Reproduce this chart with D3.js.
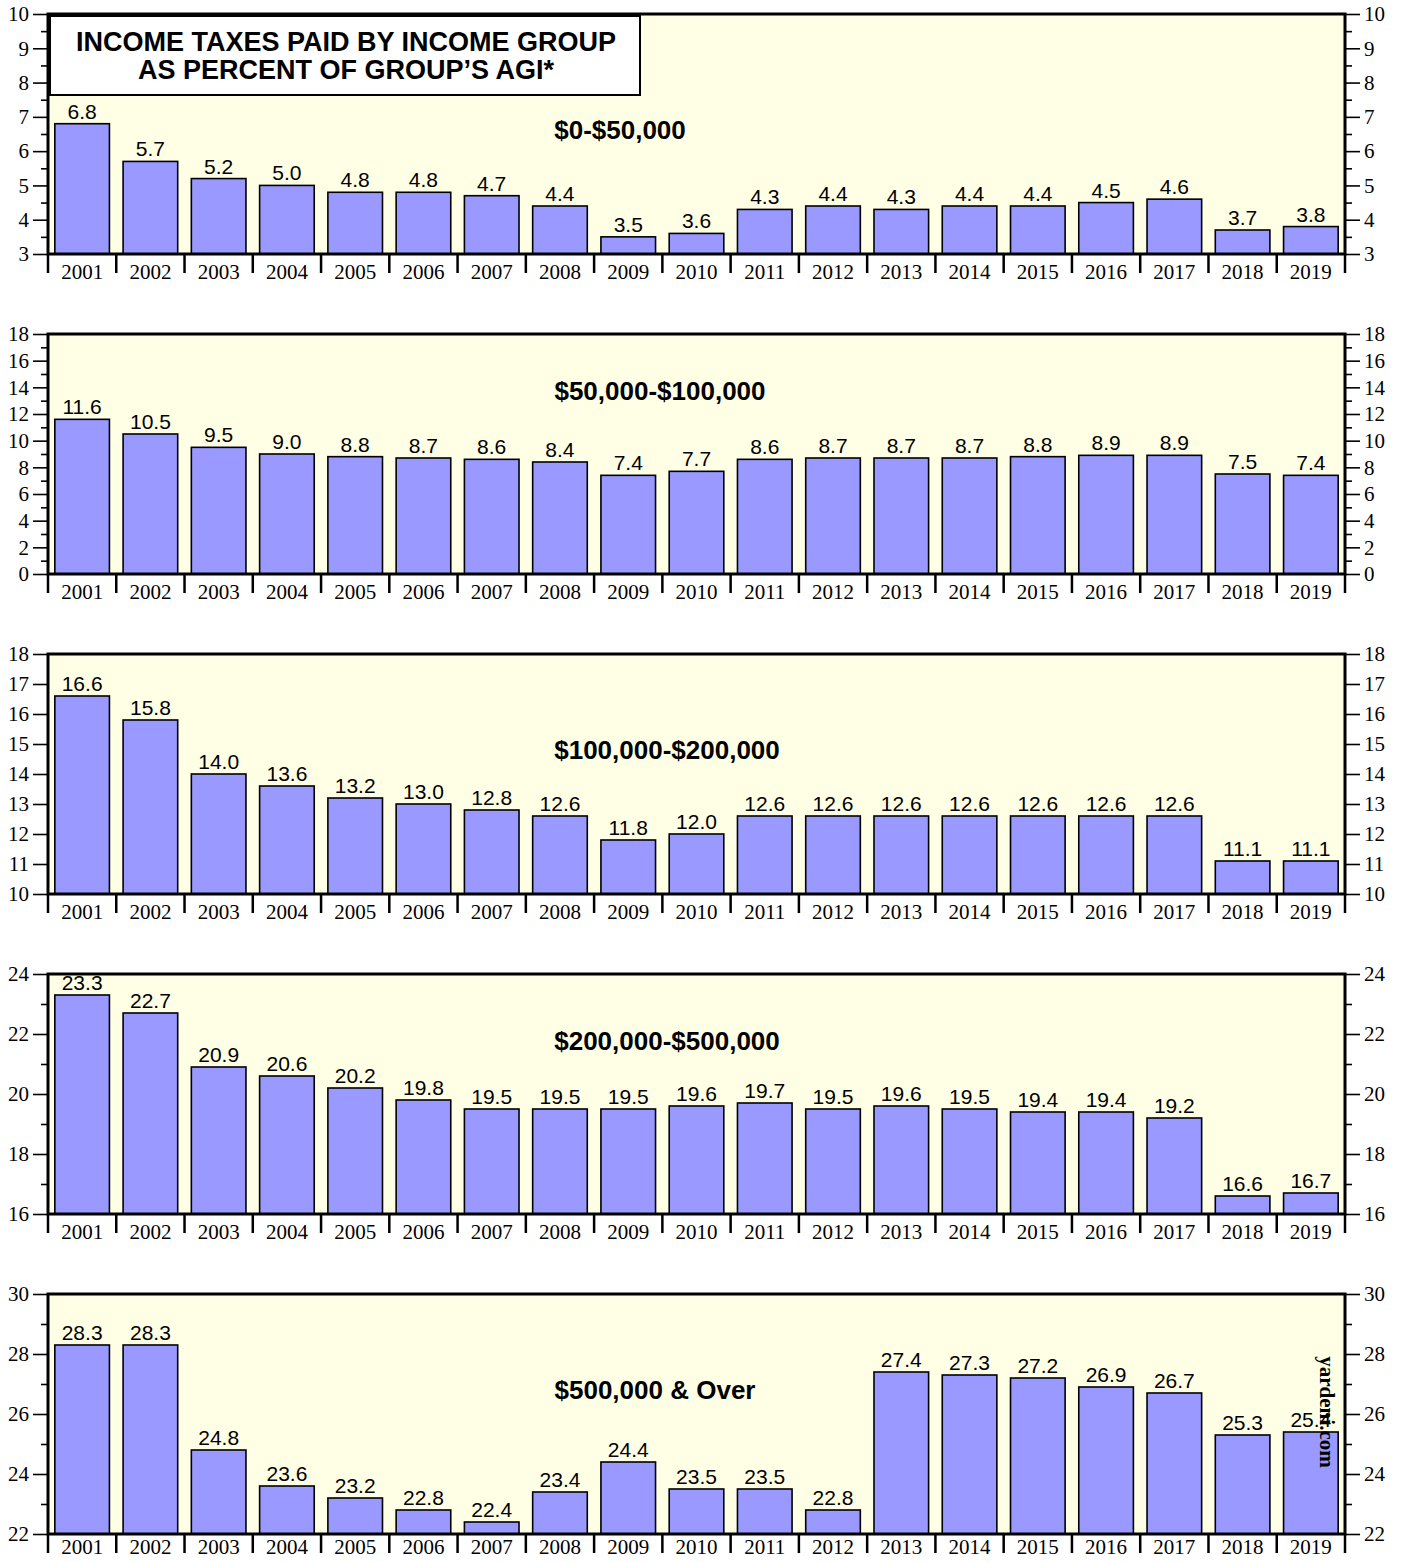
<!DOCTYPE html>
<html><head><meta charset="utf-8">
<script src="https://cdn.jsdelivr.net/npm/d3@7"></script>
<style>body{margin:0;background:#fff}svg{display:block}</style>
</head><body>
<script>
const years = ["2001","2002","2003","2004","2005","2006","2007","2008","2009","2010","2011","2012","2013","2014","2015","2016","2017","2018","2019"];
const group0to50k = [6.8,5.7,5.2,5.0,4.8,4.8,4.7,4.4,3.5,3.6,4.3,4.4,4.3,4.4,4.4,4.5,4.6,3.7,3.8];
const group50kto100k = [11.6,10.5,9.5,9.0,8.8,8.7,8.6,8.4,7.4,7.7,8.6,8.7,8.7,8.7,8.8,8.9,8.9,7.5,7.4];
const group100kto200k = [16.6,15.8,14.0,13.6,13.2,13.0,12.8,12.6,11.8,12.0,12.6,12.6,12.6,12.6,12.6,12.6,12.6,11.1,11.1];
const group200kto500k = [23.3,22.7,20.9,20.6,20.2,19.8,19.5,19.5,19.5,19.6,19.7,19.5,19.6,19.5,19.4,19.4,19.2,16.6,16.7];
const group500kPlus = [28.3,28.3,24.8,23.6,23.2,22.8,22.4,23.4,24.4,23.5,23.5,22.8,27.4,27.3,27.2,26.9,26.7,25.3,25.4];
const panelTitles = ["$0-$50,000","$50,000-$100,000","$100,000-$200,000","$200,000-$500,000","$500,000 & Over"];
const yDomains = [[3,10],[0,18],[10,18],[16,24],[22,30]];
const majorTicks = [[3,4,5,6,7,8,9,10],[0,2,4,6,8,10,12,14,16,18],[10,11,12,13,14,15,16,17,18],[16,18,20,22,24],[22,24,26,28,30]];
const minorTicks = [[3.5,4.5,5.5,6.5,7.5,8.5,9.5],[1,3,5,7,9,11,13,15,17],[],[17,19,21,23],[23,25,27,29]];
const chartTitle = ["INCOME TAXES PAID BY INCOME GROUP","AS PERCENT OF GROUP\u2019S AGI*"];
const series = [group0to50k,group50kto100k,group100kto200k,group200kto500k,group500kPlus];

const W=1403,H=1562;
const svg=d3.select("body").append("svg").attr("width",W).attr("height",H);
const left=48,right=1345,ph=240;
const tops=[14,334,654,974,1294];
const titleCx=[620,660,667,667,655];
const titleCy=[139,400,759,1050,1399];
const x=d3.scaleBand().domain(years).range([left,right]).paddingInner(0.2).paddingOuter(0.1);
const serif="'Liberation Serif','Times New Roman',serif";
const sans="'Liberation Sans',Arial,sans-serif";

series.forEach((vals,i)=>{
  const top=tops[i],bot=top+ph;
  const y=d3.scaleLinear().domain(yDomains[i]).range([bot,top]);
  const g=svg.append("g");
  g.append("rect").attr("x",left).attr("y",top).attr("width",right-left).attr("height",ph).attr("fill","#ffffe5");
  g.selectAll("rect.bar").data(vals).join("rect").attr("class","bar")
    .attr("x",(d,j)=>x(years[j])).attr("width",x.bandwidth())
    .attr("y",d=>y(d)).attr("height",d=>bot-y(d))
    .attr("fill","#9999ff").attr("stroke","#000").attr("stroke-width",1.6);
  g.selectAll("text.val").data(vals).join("text").attr("class","val")
    .attr("x",(d,j)=>x(years[j])+x.bandwidth()/2).attr("y",d=>y(d)-5)
    .attr("text-anchor","middle").attr("font-family",sans).attr("font-size",21).text(d=>d.toFixed(1));
  g.append("rect").attr("x",left).attr("y",top).attr("width",right-left).attr("height",ph)
    .attr("fill","none").attr("stroke","#000").attr("stroke-width",3);
  const la=d3.axisLeft(y).tickValues(majorTicks[i]).tickSize(15).tickPadding(4).tickFormat(d3.format("d"));
  const lg=g.append("g").attr("transform",`translate(${left},0)`).call(la);
  const lm=g.append("g").attr("transform",`translate(${left},0)`).call(d3.axisLeft(y).tickValues(minorTicks[i]).tickSize(7).tickFormat(""));
  const ra=d3.axisRight(y).tickValues(majorTicks[i]).tickSize(15).tickPadding(4).tickFormat(d3.format("d"));
  const rg=g.append("g").attr("transform",`translate(${right},0)`).call(ra);
  const rm=g.append("g").attr("transform",`translate(${right},0)`).call(d3.axisRight(y).tickValues(minorTicks[i]).tickSize(7).tickFormat(""));
  [lg,lm,rg,rm].forEach(a=>{a.select(".domain").remove();a.selectAll("line").attr("stroke","#000").attr("stroke-width",1.6);
    a.selectAll("text").attr("font-family",serif).attr("font-size",21).attr("fill","#000");});
  const xa=d3.axisBottom(x).tickSize(0).tickPadding(i===4?5:10);
  const xg=g.append("g").attr("transform",`translate(0,${bot})`).call(xa);
  xg.select(".domain").remove();
  xg.selectAll("text").attr("font-family",serif).attr("font-size",21).attr("fill","#000");
  const bounds=years.map(yr=>x(yr)-x.step()*x.paddingInner()/2).concat([right]);
  g.selectAll("line.sep").data(bounds).join("line").attr("class","sep")
    .attr("x1",d=>d).attr("x2",d=>d).attr("y1",bot).attr("y2",bot+19).attr("stroke","#000").attr("stroke-width",2.5);
  g.append("text").attr("x",titleCx[i]).attr("y",titleCy[i]).attr("text-anchor","middle")
    .attr("font-family",sans).attr("font-weight","bold").attr("font-size",26).text(panelTitles[i]);
});

svg.append("rect").attr("x",50).attr("y",16).attr("width",590).attr("height",79).attr("fill","#fff").attr("stroke","#000").attr("stroke-width",2);
svg.selectAll("text.ct").data(chartTitle).join("text").attr("class","ct")
  .attr("x",346).attr("y",(d,i)=>51+i*28).attr("text-anchor","middle")
  .attr("font-family",sans).attr("font-weight","bold").attr("font-size",27).text(d=>d);

svg.append("text").attr("transform","translate(1320,1412) rotate(90)").attr("text-anchor","middle")
  .attr("font-family",serif).attr("font-weight","bold").attr("font-size",21).text("yardeni.com");
</script>
</body></html>
